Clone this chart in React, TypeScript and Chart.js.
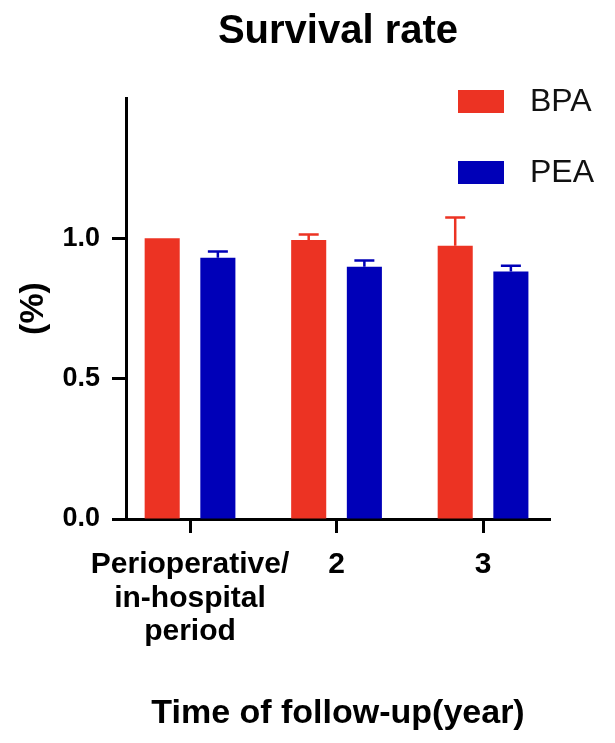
import React, { useEffect, useRef } from "react";
import { Chart, registerables } from "chart.js";

Chart.register(...registerables);

// ---- data ----
const categories: (string | string[])[] = [["Perioperative/", "in-hospital", "period"], "2", "3"];
const categoryPositions = [0, 1, 2];
const seriesLabels = ["BPA", "PEA"];
const bpaValues = [1.0, 0.994, 0.974];
const bpaErrors = [0, 0.02, 0.1];
const peaValues = [0.931, 0.899, 0.882];
const peaErrors = [0.022, 0.022, 0.02];
const yTickValues = [0, 0.5, 1.0];
const chartTitle = "Survival rate";

const RED = "#EC3323";
const BLUE = "#0000B8";
const FONT = "'Liberation Sans', Arial, Helvetica, sans-serif";

const errorBarPlugin = {
  id: "errorBars",
  afterDatasetsDraw(chart: any) {
    const ctx = chart.ctx;
    const yScale = chart.scales.y;
    chart.data.datasets.forEach((ds: any, di: number) => {
      const meta = chart.getDatasetMeta(di);
      meta.data.forEach((bar: any, i: number) => {
        const e = ds.errors[i];
        if (!e) return;
        const v = ds.data[i].y;
        const top = yScale.getPixelForValue(v + e);
        ctx.save();
        ctx.strokeStyle = ds.backgroundColor;
        ctx.lineWidth = 2.5;
        ctx.beginPath();
        ctx.moveTo(bar.x, bar.y);
        ctx.lineTo(bar.x, top);
        ctx.moveTo(bar.x - 10, top);
        ctx.lineTo(bar.x + 10, top);
        ctx.stroke();
        ctx.restore();
      });
    });
  },
};

const titleAndLegendPlugin = {
  id: "titleAndLegend",
  afterDraw(chart: any) {
    const ctx = chart.ctx;
    const area = chart.chartArea;
    ctx.save();
    // title centred over the plot area
    ctx.fillStyle = "#000";
    ctx.font = `bold 40px ${FONT}`;
    ctx.textAlign = "center";
    ctx.textBaseline = "middle";
    ctx.fillText(chartTitle, (area.left + area.right) / 2, 32);
    // legend inside top-right
    chart.data.datasets.forEach((ds: any, i: number) => {
      const cy = area.top + 3.5 + i * 71;
      ctx.fillStyle = ds.backgroundColor;
      ctx.fillRect(area.right - 92, cy - 11.5, 46, 23);
      ctx.fillStyle = "#111";
      ctx.font = `32px ${FONT}`;
      ctx.textAlign = "left";
      ctx.textBaseline = "middle";
      ctx.fillText(ds.label, area.right - 20, cy + 1);
    });
    ctx.restore();
  },
};

export default function App() {
  const canvasRef = useRef<HTMLCanvasElement | null>(null);

  useEffect(() => {
    document.body.style.margin = "0";
    const canvas = canvasRef.current;
    if (!canvas) return;
    Chart.defaults.font.family = FONT;
    const chart = new Chart(canvas, {
      type: "bar",
      data: {
        datasets: [
          {
            label: seriesLabels[0],
            data: categoryPositions.map((x, i) => ({ x, y: bpaValues[i] })),
            errors: bpaErrors,
            backgroundColor: RED,
            borderWidth: 0,
            categoryPercentage: 0.76,
            barPercentage: 0.63,
          } as any,
          {
            label: seriesLabels[1],
            data: categoryPositions.map((x, i) => ({ x, y: peaValues[i] })),
            errors: peaErrors,
            backgroundColor: BLUE,
            borderWidth: 0,
            categoryPercentage: 0.76,
            barPercentage: 0.63,
          } as any,
        ],
      },
      options: {
        animation: false,
        responsive: true,
        maintainAspectRatio: false,
        layout: { padding: { left: 0, right: 65, top: 98, bottom: 0 } },
        plugins: {
          legend: { display: false },
          tooltip: { enabled: false },
          title: { display: false },
        },
        scales: {
          x: {
            type: "linear",
            offset: false,
            min: -0.437,
            max: 2.457,
            afterBuildTicks: (s: any) => {
              s.ticks = categoryPositions.map((v) => ({ value: v }));
            },
            afterFit: (s: any) => {
              s.height = 743 - 519;
            },
            ticks: {
              callback: (_v: any, i: number) => categories[i],
              color: "#000",
              font: { size: 30, weight: "bold", family: FONT, lineHeight: 1.12 },
              padding: 15,
              maxRotation: 0,
              autoSkip: false,
            },
            grid: {
              display: true,
              offset: false,
              drawOnChartArea: false,
              drawTicks: true,
              tickLength: 14,
              tickWidth: 3,
              tickColor: "#000",
              color: "#000",
            },
            border: { display: true, color: "#000", width: 3 },
            title: {
              display: true,
              text: "Time of follow-up(year)",
              color: "#000",
              font: { size: 34, weight: "bold", family: FONT },
              padding: { top: 0, bottom: 9 },
            },
          },
          y: {
            type: "linear",
            min: 0,
            max: 1.5,
            afterBuildTicks: (s: any) => {
              s.ticks = yTickValues.map((v) => ({ value: v }));
            },
            afterFit: (s: any) => {
              s.width = 126;
            },
            ticks: {
              callback: (v: any) => Number(v).toFixed(1),
              color: "#000",
              font: { size: 27, weight: "bold", family: FONT },
              padding: 12,
            },
            grid: {
              display: true,
              drawOnChartArea: false,
              drawTicks: true,
              tickLength: 14,
              tickWidth: 3,
              tickColor: "#000",
              color: "#000",
            },
            border: { display: true, color: "#000", width: 3 },
            title: {
              display: true,
              text: "(%)",
              color: "#000",
              font: { size: 34, weight: "bold", family: FONT },
              padding: { top: 13, bottom: 0 },
            },
          },
        },
      } as any,
      plugins: [errorBarPlugin, titleAndLegendPlugin],
    });
    return () => chart.destroy();
  }, []);

  return (
    <div style={{ width: 615, height: 743, position: "relative" }}>
      <canvas ref={canvasRef} />
    </div>
  );
}
